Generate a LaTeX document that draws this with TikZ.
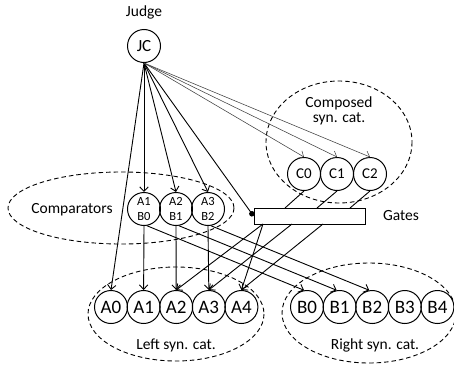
\documentclass[tikz,border=0pt]{standalone}
\usepackage{fontspec}
\setmainfont{Carlito}
\usetikzlibrary{shapes,arrows.meta,positioning}

\begin{document}
\begin{tikzpicture}[x=1pt, y=-1pt, node distance=32.6pt, >={Straight Barb[length=4.5pt,width=8.5pt]},
	cat/.style={circle, draw, line width=1pt, minimum size=33pt, inner sep=0pt, font=\fontsize{19}{21}\selectfont},
	small cat/.style={cat, font=\fontsize{15}{17}\selectfont},
	cmp/.style={circle, draw, line width=1pt, minimum size=33pt, inner sep=0pt, align=center, font=\fontsize{12.5}{15.5}\selectfont},
	group/.style={line width=0.9pt, dash pattern=on 4.5pt off 3pt},
	tag/.style={font=\fontsize{15.5}{18}\selectfont, align=center},
	link/.style={->, line width=0.9pt},
	thin link/.style={->, line width=0.55pt, black!75}]
	\useasboundingbox (0,0) rectangle (454,364);
	\draw[group] (121,208) ellipse [x radius=113, y radius=36];
	\draw[group] (339,142) ellipse [x radius=73, y radius=61];
	\draw[group] (176,314) ellipse [x radius=88, y radius=47];
	\draw[group] (369,313) ellipse [x radius=87, y radius=50];
	\node[small cat, font=\fontsize{17}{19}\selectfont] (jc) at (144,46) {JC};
	\node[tag] (judge) at (144,12) {Judge};
	\node[tag] (cmplabel) at (72,210) {Comparators};
	\node[tag] (composed) at (339,111) {Composed\\[-3pt]syn. cat.};
	\node[tag] (left) at (176,345) {Left syn. cat.};
	\node[tag] (right) at (375,345) {Right syn. cat.};
	\node[cat] (a0) at (111,307) {A0};
	\node[cat, right of=a0] (a1) {A1};
	\node[cat, right of=a1] (a2) {A2};
	\node[cat, right of=a2] (a3) {A3};
	\node[cat, right of=a3] (a4) {A4};
	\node[cat] (b0) at (307,307) {B0};
	\node[cat, right of=b0] (b1) {B1};
	\node[cat, right of=b1] (b2) {B2};
	\node[cat, right of=b2] (b3) {B3};
	\node[cat, right of=b3] (b4) {B4};
	\node[cmp] (cmp0) at (144,209) {A1\\B0};
	\node[cmp, right of=cmp0, node distance=32pt] (cmp1) {A2\\B1};
	\node[cmp, right of=cmp1, node distance=32pt] (cmp2) {A3\\B2};
	\node[small cat] (c0) at (304,174) {C0};
	\node[small cat, right of=c0, node distance=33pt] (c1) {C1};
	\node[small cat, right of=c1, node distance=33pt] (c2) {C2};
	\node[draw, fill=white, line width=1pt, minimum width=111pt, minimum height=16pt, inner sep=0pt] (gates) at (309.5,216) {};
	\node[tag, right=14pt of gates] (gatelabel) {Gates};
	\coordinate (gin0) at (285,208);
	\coordinate (gin1) at (317,208);
	\coordinate (gin2) at (350,208);
	\coordinate (gout0) at (263,224);
	\coordinate (gout1) at (292,224);
	\coordinate (gout2) at (323,224);
	\draw[link] (jc.south) -- (a0.north);
	\draw[link] (jc.south) -- (cmp0.north);
	\draw[link] (jc.south) -- (cmp1.north);
	\draw[link] (jc.south) -- (cmp2.north);
	\draw[line width=0.9pt, -{Circle[length=5.5pt]}] (jc.south) -- (gates.west);
	\draw[thin link] (jc.south) -- (c0.north);
	\draw[thin link] (jc.south) -- (c1.north);
	\draw[thin link] (jc.south) -- (c2.north);
	\draw[link] (cmp0.south) -- (a1.north);
	\draw[link] (cmp1.south) -- (a2.north);
	\draw[link] (cmp2.south) -- (a3.north);
	\draw[link] (cmp0.-80) -- (b0.100);
	\draw[link] (cmp1.-80) -- (b1.100);
	\draw[link] (cmp2.-80) -- (b2.100);
	\draw[line width=0.9pt] (c0.south) -- (gin0);
	\draw[line width=0.9pt] (c1.south) -- (gin1);
	\draw[line width=0.9pt] (c2.south) -- (gin2);
	\draw[link] (gout0) -- (a2.north);
	\draw[link] (gout0) -- (a4.north);
	\draw[link] (gout1) -- (a3.north);
	\draw[link] (gout2) -- (a4.north);
\end{tikzpicture}
\end{document}
